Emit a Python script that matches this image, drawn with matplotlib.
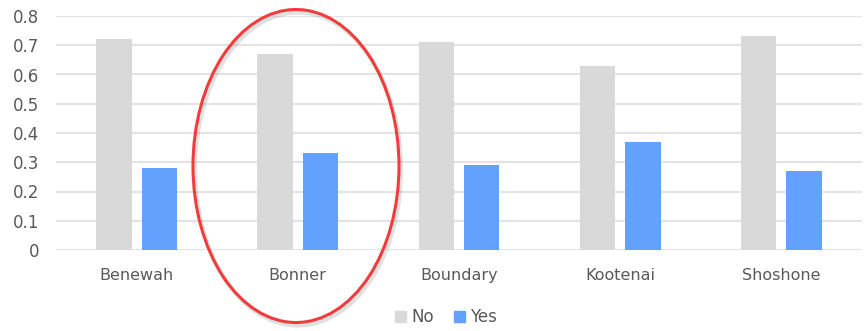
import numpy as np
import matplotlib.pyplot as plt
import matplotlib as mpl
from matplotlib.patches import Ellipse, Patch

mpl.rcParams.update({
    "font.family": ["DejaVu Sans"],
})

# -------------------------
# Data
# -------------------------
counties = ['Benewah', 'Bonner', 'Boundary', 'Kootenai', 'Shoshone']
no_vals = [0.72, 0.67, 0.71, 0.63, 0.73]
yes_vals = [0.28, 0.33, 0.29, 0.37, 0.27]

colors = ['#d9d9d9', '#63a1ff']
text_color = '#595959'

bar_width = 0.22
x = np.arange(len(counties))
offsets = [-0.141, 0.141]

# -------------------------
# Figure
# -------------------------
fig = plt.figure(figsize=(8.66, 3.31), dpi=100)
ax = fig.add_axes([56 / 866, 81 / 331, 806 / 866, 234 / 331])

ax.bar(x + offsets[0], no_vals, bar_width, color=colors[0], label='No', zorder=3)
ax.bar(x + offsets[1], yes_vals, bar_width, color=colors[1], label='Yes', zorder=3)

ax.set_xlim(-0.5, len(counties) - 0.5)
ax.set_ylim(0, 0.8)
ax.set_yticks(np.arange(0, 0.81, 0.1))
ax.set_yticklabels(['0'] + [f"{v:.1f}" for v in np.arange(0.1, 0.81, 0.1)])
ax.set_xticks(x)
ax.set_xticklabels(counties)
ax.tick_params(axis='y', length=0, pad=12, labelsize=12, labelcolor=text_color)
ax.tick_params(axis='x', length=0, pad=13, labelsize=11.5, labelcolor=text_color)

ax.grid(axis='y', color='#e3e3e3', linewidth=1.5, zorder=0)
ax.set_axisbelow(True)
for s in ax.spines.values():
    s.set_visible(False)

handles = [Patch(color=c) for c in colors]
fig.legend(handles, ['No', 'Yes'], loc='center', bbox_to_anchor=(446 / 866, 1 - 317 / 331),
           ncol=2, frameon=False, fontsize=12, labelcolor=text_color,
           handlelength=0.65, handleheight=0.65, handletextpad=0.3, columnspacing=1.2)

# highlight ellipse around Bonner
cx, cy = 296 / 866, 1 - 166 / 331
w, h = 206 / 866, 313 / 331
shadow = Ellipse((cx + 2 / 866, cy - 3 / 331), w, h, transform=fig.transFigure,
                 fill=False, edgecolor='#9a9a9a', linewidth=3, alpha=0.3)
ring = Ellipse((cx, cy), w, h, transform=fig.transFigure,
               fill=False, edgecolor='#f23b3b', linewidth=2.2)
fig.patches.extend([shadow, ring])

fig.savefig("out.png", dpi=100)
